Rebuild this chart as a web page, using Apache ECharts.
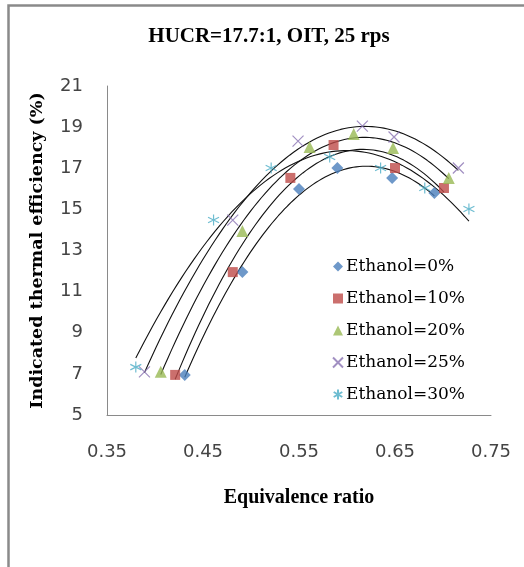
<!DOCTYPE html>
<html>
<head>
<meta charset="utf-8">
<script src="https://cdn.jsdelivr.net/npm/echarts@6/dist/echarts.min.js"></script>
<style>
  html, body { margin: 0; padding: 0; background: #fff; }
  #chart { width: 524px; height: 567px; }
</style>
</head>
<body>
<div id="chart"></div>
<script>
// equivalence ratio vs indicated thermal efficiency (%)
const eth0 = [[0.431, 6.95], [0.491, 11.95], [0.550, 15.99], [0.590, 17.01], [0.647, 16.53], [0.691, 15.8]];
const eth10 = [[0.421, 6.95], [0.481, 11.95], [0.541, 16.53], [0.586, 18.13], [0.650, 17.01], [0.701, 16.04]];
const eth20 = [[0.406, 7.1], [0.491, 13.95], [0.561, 18.03], [0.607, 18.67], [0.648, 17.98], [0.706, 16.53]];
const eth25 = [[0.389, 7.1], [0.481, 14.48], [0.549, 18.32], [0.616, 19.05], [0.649, 18.52], [0.716, 17.01]];
const eth30 = [[0.380, 7.33], [0.461, 14.48], [0.521, 17.01], [0.582, 17.55], [0.635, 17.01], [0.681, 16.04], [0.727, 15.02]];

const names = ['Ethanol=0%', 'Ethanol=10%', 'Ethanol=20%', 'Ethanol=25%', 'Ethanol=30%'];
const colors = ['#4A7EBB', '#BE4B48', '#98B954', '#8A73B3', '#4BACC6'];
const symbols = [
  'diamond',
  'rect',
  'triangle',
  'path://M0,0L10,10M10,0L0,10',
  'path://M5,0L5,10M0.7,2.5L9.3,7.5M0.7,7.5L9.3,2.5'
];
const sizes = [12, 10, 12, 11, 11];
const allData = [eth0, eth10, eth20, eth25, eth30];

// 2nd order polynomial trendline (least squares), like the spreadsheet one
function quadFit(pts) {
  let s = [0, 0, 0, 0, 0], t = [0, 0, 0];
  pts.forEach(([x, y]) => {
    for (let k = 0; k < 5; k++) s[k] += Math.pow(x, k);
    for (let k = 0; k < 3; k++) t[k] += y * Math.pow(x, k);
  });
  const m = [
    [s[0], s[1], s[2], t[0]],
    [s[1], s[2], s[3], t[1]],
    [s[2], s[3], s[4], t[2]]
  ];
  for (let i = 0; i < 3; i++) {
    for (let j = i + 1; j < 3; j++) {
      const f = m[j][i] / m[i][i];
      for (let k = i; k < 4; k++) m[j][k] -= f * m[i][k];
    }
  }
  const c = [0, 0, 0];
  for (let i = 2; i >= 0; i--) {
    let v = m[i][3];
    for (let k = i + 1; k < 3; k++) v -= m[i][k] * c[k];
    c[i] = v / m[i][i];
  }
  return c;
}

function trend(pts) {
  const c = quadFit(pts);
  const x0 = pts[0][0], x1 = pts[pts.length - 1][0];
  const out = [];
  for (let i = 0; i <= 80; i++) {
    const x = x0 + (x1 - x0) * i / 80;
    out.push([x, c[0] + c[1] * x + c[2] * x * x]);
  }
  return out;
}

const series = [];
allData.forEach((d, i) => {
  series.push({
    name: names[i] + ' trend',
    type: 'line',
    data: trend(d),
    showSymbol: false,
    silent: true,
    lineStyle: { color: '#111', width: 1.1 },
    z: 1
  });
});
allData.forEach((d, i) => {
  const isLine = i >= 3;
  series.push({
    name: names[i],
    type: 'scatter',
    data: d,
    symbol: symbols[i],
    symbolSize: sizes[i],
    itemStyle: isLine
      ? { color: 'rgba(0,0,0,0)', borderColor: colors[i], borderWidth: 1.2 }
      : { color: colors[i] },
    z: 3
  });
});

const chart = echarts.init(document.getElementById('chart'));
chart.setOption({
  animation: false,
  title: {
    text: 'HUCR=17.7:1, OIT, 25 rps',
    left: 264,
    top: 21,
    textAlign: 'center',
    textStyle: { fontFamily: 'Liberation Serif', fontWeight: 'bold', fontSize: 21, color: '#000' }
  },
  graphic: [{
    type: 'rect',
    shape: { x: 8.5, y: 5.5, width: 700, height: 700 },
    style: { fill: 'none', stroke: '#8a8a8a', lineWidth: 2.5 },
    silent: true
  }],
  legend: {
    data: names,
    orient: 'vertical',
    left: 327,
    top: 253,
    itemWidth: 10,
    itemHeight: 10,
    itemGap: 15,
    textStyle: { fontFamily: 'DejaVu Serif', fontSize: 17, color: '#000', padding: [0, 0, 0, -2] }
  },
  grid: { left: 107, right: 33, top: 86, bottom: 152 },
  xAxis: {
    type: 'value',
    min: 0.35,
    max: 0.75,
    interval: 0.05,
    name: 'Equivalence ratio',
    nameLocation: 'middle',
    nameGap: 73,
    nameTextStyle: { fontFamily: 'Liberation Serif', fontWeight: 'bold', fontSize: 20, color: '#000' },
    axisLine: { lineStyle: { color: '#8a8a8a', width: 1 } },
    axisTick: { show: false },
    splitLine: { show: false },
    axisLabel: {
      margin: 28,
      fontFamily: 'DejaVu Sans',
      fontSize: 18,
      color: '#444',
      formatter: v => (Math.round((v - 0.35) / 0.05) % 2 === 0 ? v.toFixed(2) : '')
    }
  },
  yAxis: {
    type: 'value',
    min: 5,
    max: 21,
    interval: 1,
    name: 'Indicated thermal efficiency (%)',
    nameLocation: 'middle',
    nameGap: 61,
    nameTextStyle: { fontFamily: 'DejaVu Serif', fontWeight: 'bold', fontSize: 17.5, color: '#000' },
    axisLine: { show: true, lineStyle: { color: '#8a8a8a', width: 1 } },
    axisTick: { show: false },
    splitLine: { show: false },
    axisLabel: {
      margin: 24,
      fontFamily: 'DejaVu Sans',
      fontSize: 18,
      color: '#444',
      formatter: v => (Math.round(v - 5) % 2 === 0 ? String(v) : '')
    }
  },
  series: series
});
</script>
</body>
</html>
